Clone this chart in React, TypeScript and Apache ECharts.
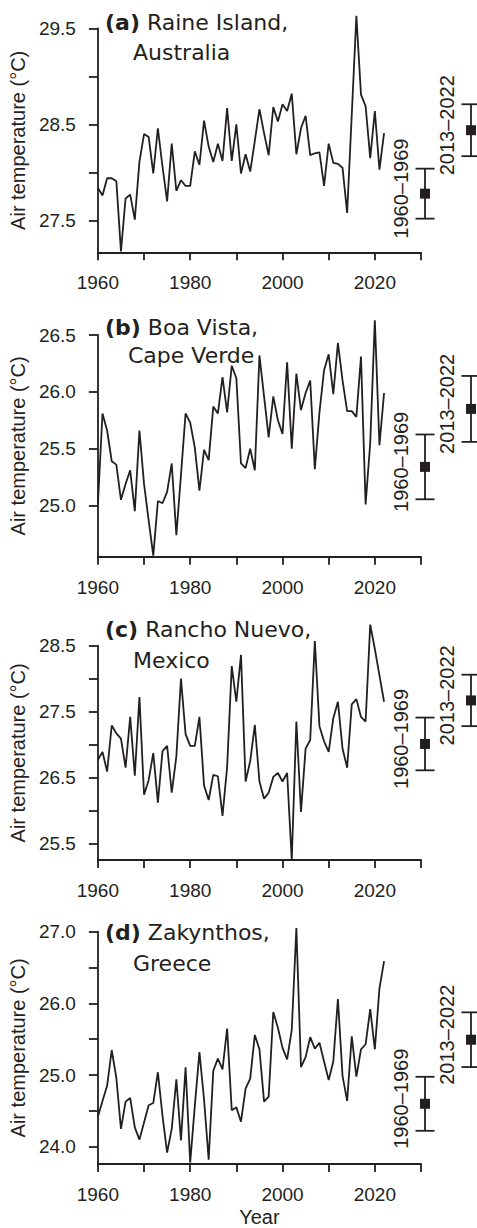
import React, { useEffect, useRef } from "react";
import * as echarts from "echarts";

const years = [
  1960, 1961, 1962, 1963, 1964, 1965, 1966, 1967, 1968, 1969,
  1970, 1971, 1972, 1973, 1974, 1975, 1976, 1977, 1978, 1979,
  1980, 1981, 1982, 1983, 1984, 1985, 1986, 1987, 1988, 1989,
  1990, 1991, 1992, 1993, 1994, 1995, 1996, 1997, 1998, 1999,
  2000, 2001, 2002, 2003, 2004, 2005, 2006, 2007, 2008, 2009,
  2010, 2011, 2012, 2013, 2014, 2015, 2016, 2017, 2018, 2019,
  2020, 2021, 2022,
];

const raineIsland = [
  27.84, 27.76, 27.94, 27.94, 27.91, 27.18, 27.73, 27.77, 27.51, 28.11,
  28.40, 28.37, 27.99, 28.46, 28.06, 27.70, 28.30, 27.81, 27.92, 27.86,
  27.86, 28.22, 28.08, 28.54, 28.27, 28.11, 28.30, 28.12, 28.67, 28.12,
  28.50, 27.99, 28.19, 28.01, 28.33, 28.66, 28.41, 28.18, 28.68, 28.53,
  28.71, 28.64, 28.82, 28.19, 28.46, 28.59, 28.18, 28.20, 28.21, 27.86,
  28.30, 28.10, 28.09, 28.05, 27.58, 28.60, 29.63, 28.81, 28.69, 28.15,
  28.64, 28.03, 28.41,
];
const boaVista = [
  25.01, 25.81, 25.66, 25.39, 25.36, 25.05, 25.19, 25.31, 24.95, 25.66,
  25.19, 24.87, 24.56, 25.04, 25.02, 25.12, 25.37, 24.74, 25.27, 25.81,
  25.73, 25.51, 25.13, 25.49, 25.40, 25.87, 25.81, 26.13, 25.82, 26.23,
  26.12, 25.37, 25.33, 25.50, 25.31, 26.32, 25.96, 25.60, 25.96, 25.75,
  25.63, 26.26, 25.50, 26.16, 25.84, 25.99, 26.10, 25.32, 25.82, 26.19,
  26.33, 25.98, 26.43, 26.10, 25.83, 25.83, 25.78, 26.31, 25.01, 25.55,
  26.63, 25.53, 25.99,
];
const ranchoNuevo = [
  26.77, 26.89, 26.59, 27.29, 27.17, 27.09, 26.65, 27.42, 26.53, 27.72,
  26.24, 26.46, 26.87, 26.12, 26.90, 26.98, 26.27, 26.82, 28.00, 27.16,
  26.98, 26.98, 27.42, 26.38, 26.16, 26.54, 26.52, 25.92, 26.66, 28.19,
  27.65, 28.36, 26.44, 26.75, 27.30, 26.44, 26.18, 26.27, 26.51, 26.57,
  26.44, 26.57, 25.25, 27.35, 25.98, 26.94, 27.07, 28.57, 27.28, 27.05,
  26.89, 27.40, 27.65, 26.94, 26.65, 27.61, 27.69, 27.42, 27.35, 28.82,
  28.45, 28.05, 27.65,
];
const zakynthos = [
  24.42, 24.64, 24.85, 25.35, 24.96, 24.25, 24.63, 24.68, 24.27, 24.10,
  24.34, 24.58, 24.61, 25.04, 24.43, 23.92, 24.25, 24.94, 24.09, 25.11,
  23.78, 24.57, 25.32, 24.66, 23.82, 25.06, 25.23, 25.08, 25.65, 24.51,
  24.55, 24.35, 24.81, 24.95, 25.56, 25.36, 24.63, 24.70, 25.88, 25.66,
  25.38, 25.22, 25.63, 27.05, 25.11, 25.25, 25.53, 25.37, 25.45, 25.19,
  24.93, 25.19, 26.06, 24.99, 24.64, 25.54, 24.98, 25.36, 25.43, 25.92,
  25.36, 26.21, 26.59,
];

const periods = ["1960\u20131969", "2013\u20132022"];
const raineMeans = [27.78, 28.44];
const raineErr = [0.26, 0.27];
const boaMeans = [25.34, 25.85];
const boaErr = [0.285, 0.29];
const ranchoMeans = [27.01, 27.67];
const ranchoErr = [0.4, 0.39];
const zakMeans = [24.61, 25.5];
const zakErr = [0.375, 0.38];

const raineTicks = [27.5, 28.0, 28.5, 29.0, 29.5];
const raineLabels = [27.5, 28.5, 29.5];
const boaTicks = [25.0, 25.5, 26.0, 26.5];
const boaLabels = [25.0, 25.5, 26.0, 26.5];
const ranchoTicks = [25.5, 26.0, 26.5, 27.0, 27.5, 28.0, 28.5];
const ranchoLabels = [25.5, 26.5, 27.5, 28.5];
const zakTicks = [24.0, 24.5, 25.0, 25.5, 26.0, 26.5, 27.0];
const zakLabels = [24.0, 25.0, 26.0, 27.0];

const xTickLabels = [1960, 1980, 2000, 2020];

const TITLE_FONT = "DejaVu Sans";
const FONT = "Liberation Sans";
const INK = "#231f20";

const panels = [
  {
    tag: "(a)", line1: " Raine Island,", line2: "Australia",
    values: raineIsland, means: raineMeans, errs: raineErr,
    min: 27.17, max: 29.5, ticks: raineTicks, labels: raineLabels,
    top: 28.3, height: 224, t1y: 22, t2y: 52, t2x: 133,
  },
  {
    tag: "(b)", line1: " Boa Vista,", line2: "Cape Verde",
    values: boaVista, means: boaMeans, errs: boaErr,
    min: 24.55, max: 26.5, ticks: boaTicks, labels: boaLabels,
    top: 335, height: 221.7, t1y: 327.5, t2y: 355, t2x: 128,
  },
  {
    tag: "(c)", line1: " Rancho Nuevo,", line2: "Mexico",
    values: ranchoNuevo, means: ranchoMeans, errs: ranchoErr,
    min: 25.25, max: 28.5, ticks: ranchoTicks, labels: ranchoLabels,
    top: 645.7, height: 214.3, t1y: 629.5, t2y: 660, t2x: 133,
  },
  {
    tag: "(d)", line1: " Zakynthos,", line2: "Greece",
    values: zakynthos, means: zakMeans, errs: zakErr,
    min: 23.76, max: 27.0, ticks: zakTicks, labels: zakLabels,
    top: 931.7, height: 233.3, t1y: 932.5, t2y: 963.5, t2x: 133,
  },
];

function buildOption() {
  const grid: any[] = [];
  const xAxis: any[] = [];
  const yAxis: any[] = [];
  const series: any[] = [];
  const graphic: any[] = [];

  panels.forEach((p, i) => {
    grid.push({ left: 96.5, top: p.top, width: 324.5, height: p.height });
    // side panel for period means: spans x 402..477
    grid.push({ left: 402, top: p.top, width: 75, height: p.height });

    xAxis.push({
      type: "value",
      gridIndex: 2 * i,
      min: 1960,
      max: 2030,
      interval: 10,
      axisLine: { show: true, onZero: false, lineStyle: { color: INK, width: 1.8 } },
      axisTick: { show: true, length: 8, lineStyle: { color: INK, width: 1.8 } },
      axisLabel: {
        customValues: xTickLabels,
        formatter: (v: number) => String(v),
        margin: 21,
        fontSize: 19,
        fontFamily: FONT,
        color: INK,
      },
      splitLine: { show: false },
      name: i === 3 ? "Year" : "",
      nameLocation: "middle",
      nameGap: 43,
      nameTextStyle: { fontSize: 20, fontFamily: FONT, color: INK },
    });
    // hidden position axis for the two period markers (index 0 and 1)
    xAxis.push({
      type: "value",
      gridIndex: 2 * i + 1,
      min: -0.5,
      max: 1.1304,
      show: false,
    });

    yAxis.push({
      type: "value",
      gridIndex: 2 * i,
      min: p.min,
      max: p.max,
      axisLine: { show: true, onZero: false, lineStyle: { color: INK, width: 1.8 } },
      axisTick: {
        show: true,
        length: 9,
        customValues: p.ticks,
        lineStyle: { color: INK, width: 1.8 },
      },
      axisLabel: {
        customValues: p.labels,
        formatter: (v: number) => v.toFixed(1),
        margin: 22,
        fontSize: 19,
        fontFamily: FONT,
        color: INK,
      },
      splitLine: { show: false },
      name: "Air temperature (\u00b0C)",
      nameLocation: "middle",
      nameRotate: 90,
      nameGap: 60,
      nameTextStyle: { fontSize: 20, fontFamily: FONT, color: INK },
    });
    yAxis.push({
      type: "value",
      gridIndex: 2 * i + 1,
      min: p.min,
      max: p.max,
      show: false,
    });

    series.push({
      type: "line",
      xAxisIndex: 2 * i,
      yAxisIndex: 2 * i,
      data: years.map((yr, j) => [yr, p.values[j]]),
      symbol: "none",
      showSymbol: false,
      clip: false,
      silent: true,
      lineStyle: { color: INK, width: 1.8 },
    });

    series.push({
      type: "custom",
      xAxisIndex: 2 * i + 1,
      yAxisIndex: 2 * i + 1,
      clip: false,
      silent: true,
      data: periods.map((_, j) => [j, p.means[j], p.errs[j]]),
      renderItem: (params: any, api: any) => {
        const c = api.value(0);
        const m = api.value(1);
        const e = api.value(2);
        const pm = api.coord([c, m]);
        const ph = api.coord([c, m + e]);
        const pl = api.coord([c, m - e]);
        const x = pm[0];
        const cap = 9.5;
        const sq = 10;
        const st = { stroke: INK, lineWidth: 1.8 };
        return {
          type: "group",
          children: [
            { type: "line", shape: { x1: x, y1: ph[1], x2: x, y2: pl[1] }, style: st },
            { type: "line", shape: { x1: x - cap, y1: ph[1], x2: x + cap, y2: ph[1] }, style: st },
            { type: "line", shape: { x1: x - cap, y1: pl[1], x2: x + cap, y2: pl[1] }, style: st },
            { type: "rect", shape: { x: x - sq / 2, y: pm[1] - sq / 2, width: sq, height: sq }, style: { fill: INK } },
            {
              type: "text",
              x: x - 24,
              y: pm[1] - 5,
              rotation: Math.PI / 2,
              style: {
                text: periods[params.dataIndex],
                fill: INK,
                fontSize: 20,
                fontFamily: FONT,
                align: "center",
                verticalAlign: "middle",
              },
            },
          ],
        };
      },
    });

    graphic.push({
      type: "text",
      x: 105,
      y: p.t1y,
      style: {
        text: "{b|" + p.tag + "}{r|" + p.line1 + "}",
        fill: INK,
        fontSize: 22,
        fontFamily: TITLE_FONT,
        verticalAlign: "middle",
        rich: {
          b: { fontWeight: "bold", fontSize: 22, fontFamily: TITLE_FONT, fill: INK },
          r: { fontSize: 22, fontFamily: TITLE_FONT, fill: INK },
        },
      },
    });
    graphic.push({
      type: "text",
      x: p.t2x,
      y: p.t2y,
      style: {
        text: p.line2,
        fill: INK,
        fontSize: 22,
        fontFamily: TITLE_FONT,
        verticalAlign: "middle",
      },
    });
  });

  return {
    animation: false,
    backgroundColor: "#ffffff",
    grid,
    xAxis,
    yAxis,
    series,
    graphic,
  };
}

export default function App() {
  const ref = useRef<HTMLDivElement>(null);
  useEffect(() => {
    if (!ref.current) return;
    const chart = echarts.init(ref.current, undefined, { renderer: "svg" });
    chart.setOption(buildOption() as any);
    return () => chart.dispose();
  }, []);
  return (
    <div
      ref={ref}
      style={{ position: "absolute", left: 0, top: 0, width: 477, height: 1228 }}
    />
  );
}
